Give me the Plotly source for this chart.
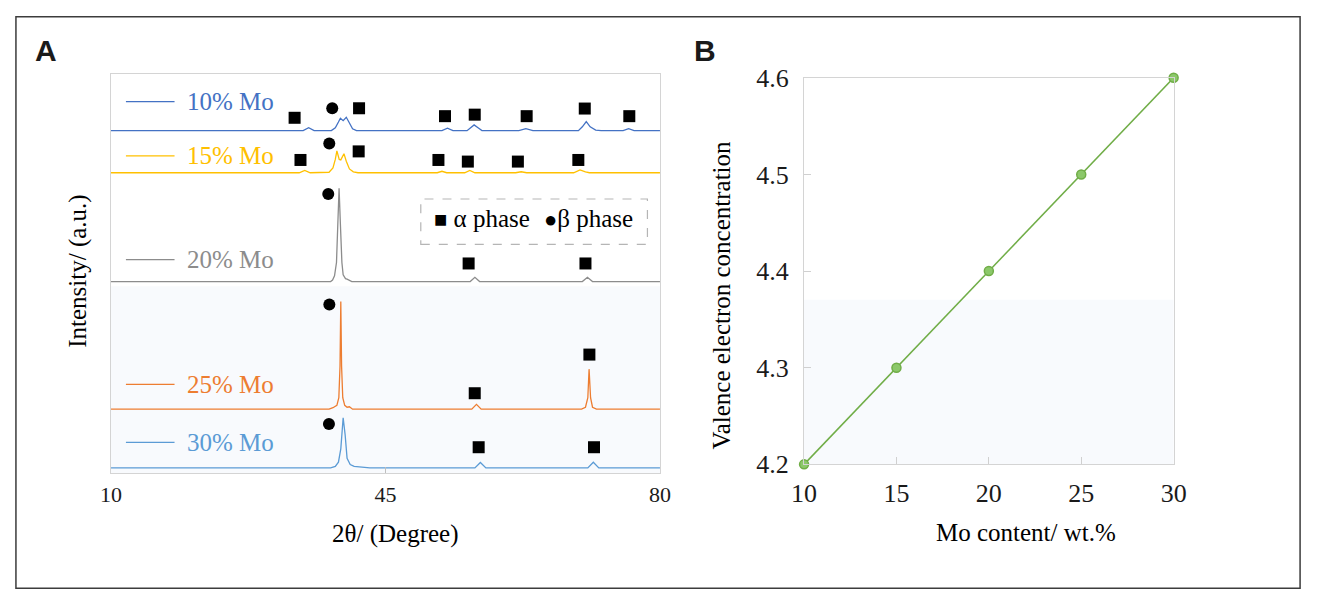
import plotly.graph_objects as go

# ---------------- data ----------------
samples = ["10% Mo", "15% Mo", "20% Mo", "25% Mo", "30% Mo"]
colors = ["#4472c4", "#ffc000", "#8c8c8c", "#ed7d31", "#5b9bd5"]
offsets = [359.5, 315.3, 201.0, 67.0, 5.3]  # stacking offsets (a.u.)

tt_10 = [10, 34.5, 35.2, 35.9, 38.1, 38.6, 39.0, 39.25, 39.6, 40.0, 40.4, 40.8, 41.3,
         52.2, 52.9, 53.6, 55.4, 55.9, 56.3, 56.8, 57.3, 62.0, 62.9, 63.8,
         69.6, 70.1, 70.6, 71.1, 71.8, 72.5, 75.3, 76.0, 76.7, 80]
int_10 = [0, 0, 3, 0, 0, 3, 9, 13, 10.5, 14, 8, 2, 0,
          0, 2.5, 0, 0, 3, 6, 3, 0, 0, 2, 0,
          0, 4, 9.5, 4, 0.5, 0, 0, 2, 0, 0]

tt_15 = [10, 34.0, 34.7, 35.4, 37.8, 38.3, 38.6, 38.8, 39.1, 39.3, 39.7, 40.0, 40.4, 40.9, 41.5,
         51.6, 52.2, 52.8, 55.1, 55.75, 56.4, 61.6, 62.3, 63.0, 69.0, 69.8, 70.5, 71.0, 80]
int_15 = [0, 0, 2.5, 0, 0.5, 5, 14, 23, 14, 13.5, 20, 12, 4, 1, 0,
          0, 1.5, 0, 0, 2.5, 0, 0, 1, 0, 0, 3, 1, 0, 0]

tt_20 = [10, 38.0, 38.25, 38.5, 38.75, 38.94, 39.08, 39.25, 39.44, 39.6, 39.9, 40.1, 40.4, 40.7,
         55.8, 56.4, 57.0, 70.1, 70.75, 71.4, 80]
int_20 = [0, 0, 1.5, 6, 20, 60, 98, 60, 20, 7, 3, 2.5, 1, 0,
          0, 4.5, 0, 0, 4.5, 0, 0]

tt_25 = [10, 37.8, 38.3, 38.8, 39.05, 39.2, 39.3, 39.4, 39.55, 39.8, 40.1, 40.4, 40.8,
         56.0, 56.6, 57.2, 70.0, 70.5, 70.8, 70.96, 71.15, 71.4, 71.9, 80]
int_25 = [0, 0, 1.5, 4, 12, 45, 113, 45, 12, 4, 2, 2.5, 0,
          0, 5, 0, 0, 2, 12, 42, 12, 2, 0, 0]

tt_30 = [10, 38.0, 38.6, 39.0, 39.3, 39.6, 39.85, 40.1, 40.5, 41.0, 42.0, 43.0,
         56.4, 57.1, 57.8, 70.8, 71.5, 72.2, 80]
int_30 = [0, 0, 1.5, 6, 20, 52.7, 35, 10, 3.5, 1.5, 0.7, 0,
          0, 5.7, 0, 0, 6, 0, 0]

tt_all = [tt_10, tt_15, tt_20, tt_25, tt_30]
int_all = [int_10, int_15, int_20, int_25, int_30]

# phase markers (2theta, a.u.)
alpha_tt = [33.41, 41.63, 52.59, 56.38, 63.0, 70.41, 76.09,
            34.16, 41.58, 51.75, 55.5, 61.88, 69.59,
            55.6, 70.5,
            56.38, 71.0,
            56.88, 71.59]
alpha_y = [373, 383, 374.7, 376.3, 374.7, 382.7, 374.7,
           328.7, 337.7, 328.7, 327, 327, 328.7,
           220, 220,
           83.7, 124.3,
           27, 27]
beta_tt = [38.21, 37.83, 37.7, 37.84, 37.79]
beta_y = [383, 346, 293, 177, 51.3]

label_y = [390, 333, 224, 93, 32]

# panel B
mo_content = [10, 15, 20, 25, 30]
vec = [4.2, 4.3, 4.4, 4.5, 4.6]

# ---------------- figure ----------------
W, H = 1317, 606
def px(x): return x / W
def py(y): return 1 - y / H

FONT = "Liberation Serif"
fig = go.Figure()

for name, col, off, tt, iv in zip(samples, colors, offsets, tt_all, int_all):
    fig.add_trace(go.Scatter(x=tt, y=[off + v for v in iv], mode="lines",
                             line=dict(color=col, width=1.3), name=name,
                             showlegend=False, xaxis="x", yaxis="y"))

fig.add_trace(go.Scatter(x=alpha_tt, y=alpha_y, mode="markers",
                         marker=dict(symbol="square", size=12, color="black"),
                         showlegend=False, xaxis="x", yaxis="y"))
fig.add_trace(go.Scatter(x=beta_tt, y=beta_y, mode="markers",
                         marker=dict(symbol="circle", size=12, color="black"),
                         showlegend=False, xaxis="x", yaxis="y"))

fig.add_trace(go.Scatter(x=mo_content, y=vec, mode="lines+markers",
                         line=dict(color="#70ad47", width=1.5),
                         marker=dict(symbol="circle", size=9, color="#8cc86a",
                                     line=dict(color="#70ad47", width=1.5)),
                         cliponaxis=False, showlegend=False, xaxis="x2", yaxis="y2"))

shapes = []
annotations = []
# tinted lower background
shapes.append(dict(type="rect", xref="x domain", yref="paper", x0=0, x1=1,
                   y0=py(482), y1=py(286), fillcolor="#f8fafd", line=dict(width=0), layer="below"))
shapes.append(dict(type="rect", xref="x2 domain", yref="paper", x0=0, x1=1,
                   y0=py(473), y1=py(300), fillcolor="#f8fafd", line=dict(width=0), layer="below"))
# outer border
shapes.append(dict(type="rect", xref="paper", yref="paper", x0=px(3), x1=px(1313),
                   y0=py(603), y1=py(3), line=dict(color="#3c3c3c", width=1.5)))

# sample labels
for name, col, ly in zip(samples, colors, label_y):
    shapes.append(dict(type="line", xref="x", yref="y", x0=11.9, x1=18.1, y0=ly, y1=ly,
                       line=dict(color=col, width=1.3)))
    annotations.append(dict(xref="x", yref="y", x=19.4, y=ly, text=name, showarrow=False,
                            xanchor="left", yanchor="middle",
                            font=dict(family=FONT, size=25, color=col)))

# phase legend box
shapes.append(dict(type="rect", xref="x", yref="y", x0=49.5, x1=78.4, y0=240, y1=287.7,
                   line=dict(color="#b5b5b5", width=1.2, dash="dash")))
annotations.append(dict(xref="paper", yref="paper", x=px(427), y=py(215),
                        text="<span style='font-size:22px'>■</span> α phase",
                        showarrow=False, xanchor="left", yanchor="middle",
                        font=dict(family=FONT, size=25, color="black")))
annotations.append(dict(xref="paper", yref="paper", x=px(540), y=py(215),
                        text="<span style='font-size:22px'>●</span>β phase",
                        showarrow=False, xanchor="left", yanchor="middle",
                        font=dict(family=FONT, size=25, color="black")))

# axis titles and panel letters
annotations += [
    dict(xref="paper", yref="paper", x=px(390), y=py(546), text="2θ/ (Degree)",
         showarrow=False, xanchor="center", yanchor="middle",
         font=dict(family=FONT, size=25, color="black")),
    dict(xref="paper", yref="paper", x=px(66), y=py(270), text="Intensity/ (a.u.)",
         showarrow=False, textangle=-90, xanchor="center", yanchor="middle",
         font=dict(family=FONT, size=25, color="black")),
    dict(xref="paper", yref="paper", x=px(1033), y=py(545), text="Mo content/ wt.%",
         showarrow=False, xanchor="center", yanchor="middle",
         font=dict(family=FONT, size=25, color="black")),
    dict(xref="paper", yref="paper", x=px(723), y=py(295), text="Valence electron concentration",
         showarrow=False, textangle=-90, xanchor="center", yanchor="middle",
         font=dict(family=FONT, size=25, color="black")),
    dict(xref="paper", yref="paper", x=px(34), y=py(38), text="<b>A</b>",
         showarrow=False, xanchor="center", yanchor="middle",
         font=dict(family="Liberation Sans", size=30, color="#1a1a1a")),
    dict(xref="paper", yref="paper", x=px(706), y=py(38), text="<b>B</b>",
         showarrow=False, xanchor="center", yanchor="middle",
         font=dict(family="Liberation Sans", size=30, color="#1a1a1a")),
]

frame = dict(showline=True, mirror=True, linecolor="#d4d4d4", linewidth=1,
             showgrid=False, zeroline=False)

fig.update_layout(
    width=W, height=H, margin=dict(l=0, r=0, t=0, b=0),
    paper_bgcolor="white", plot_bgcolor="rgba(0,0,0,0)",
    font=dict(family=FONT, color="#1a1a1a"),
    xaxis=dict(domain=[px(100), px(660)], range=[10, 80], tickvals=[10, 45, 80],
               ticks="inside", ticklen=6, tickcolor="#bfbfbf", anchor="y",
               tickfont=dict(family=FONT, size=22, color="#1a1a1a"), ticklabelstandoff=2, **frame),
    yaxis=dict(domain=[py(482), py(63)], range=[0, 419], showticklabels=False, ticks="",
               anchor="x", **frame),
    xaxis2=dict(domain=[px(807), px(1184)], range=[10, 30], tickvals=mo_content,
                ticks="inside", ticklen=7, tickcolor="#d0d0d0", anchor="y2",
                tickfont=dict(family=FONT, size=26, color="#1a1a1a"), ticklabelstandoff=5, **frame),
    yaxis2=dict(domain=[py(473), py(67)], range=[4.2, 4.6], tickvals=[4.2, 4.3, 4.4, 4.5, 4.6],
                tickformat=".1f", ticks="inside", ticklen=7, tickcolor="#d0d0d0", anchor="x2",
                tickfont=dict(family=FONT, size=26, color="#1a1a1a"), ticklabelstandoff=9, **frame),
    shapes=shapes, annotations=annotations,
)

fig.write_html("out.html",
               post_script="document.body.style.margin='0';document.body.style.overflow='hidden';")
